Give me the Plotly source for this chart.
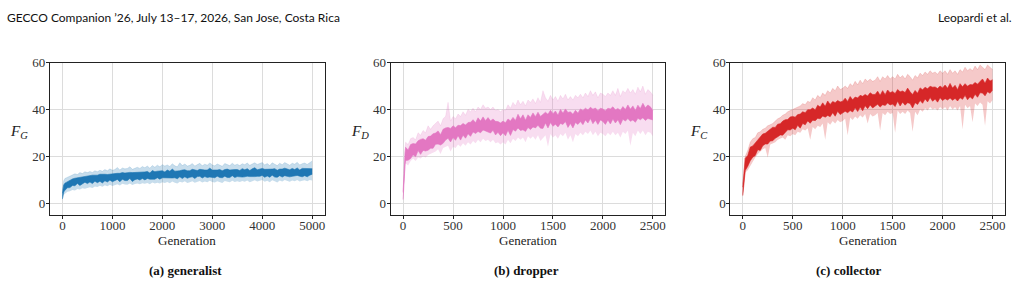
import plotly.graph_objects as go

# ---------------- data ----------------
gen_a = [0, 10, 25] + list(range(50, 5001, 50))
mean_a = [3.0, 5.0, 6.2,
          7.0, 7.8, 8.3, 8.9, 9.0, 9.6, 9.3, 9.9, 10.2, 10.0,
          10.4, 10.1, 10.6, 10.3, 10.8, 10.5, 10.9, 10.6, 11.1, 10.8,
          11.0, 11.4, 10.9, 11.6, 11.2, 11.3, 11.8, 11.1, 11.5, 11.7,
          11.4, 11.9, 11.6, 12.0, 11.5, 12.1, 11.8, 12.2, 11.9, 12.3,
          12.0, 12.4, 12.1, 12.6, 12.2, 12.0, 12.5, 12.3, 12.7, 12.2,
          12.4, 12.8, 12.3, 12.6, 12.9, 12.4, 12.7, 12.5, 13.0, 12.6,
          12.4, 12.8, 12.6, 12.3, 12.9, 12.7, 12.5, 13.0, 12.6, 12.8,
          12.5, 12.9, 12.7, 13.1, 12.6, 12.9, 13.2, 12.8, 13.0, 13.3,
          12.7, 13.0, 12.6, 13.2, 12.9, 12.5, 13.1, 12.8, 13.3, 12.9,
          12.7, 13.1, 12.9, 13.4, 12.8, 13.0, 13.2, 12.9, 13.3, 13.5]
spread_a = [1.2, 1.4, 1.5,
            1.5, 1.3, 1.7, 1.4, 1.6, 1.2, 1.8, 1.5, 1.3, 1.7,
            1.4, 1.8, 1.3, 1.6, 1.5, 1.9, 1.4, 1.6, 1.3, 1.7,
            1.5, 1.3, 1.8, 1.4, 1.6, 1.7, 1.3, 1.9, 1.5, 1.4,
            1.6, 1.4, 1.7, 1.5, 1.3, 1.8, 1.6, 1.4, 1.7, 1.5,
            1.3, 1.7, 1.5, 1.9, 1.4, 1.6, 1.3, 1.8, 1.5, 1.6,
            1.4, 1.6, 1.8, 1.3, 1.5, 1.7, 1.4, 1.6, 1.9, 1.5,
            1.6, 1.3, 1.7, 1.5, 1.4, 1.8, 1.6, 1.3, 1.7, 1.5,
            1.4, 1.8, 1.5, 1.6, 1.3, 1.7, 1.9, 1.4, 1.6, 1.5,
            1.7, 1.4, 1.6, 1.3, 1.8, 1.5, 1.4, 1.7, 1.6, 1.5,
            1.5, 1.7, 1.4, 1.6, 1.3, 1.8, 1.5, 1.7, 1.4, 1.2]
band_lo_a = [1.0, 2.5, 3.5,
             4.0, 4.8, 5.0, 5.6, 5.4, 6.0, 5.8, 6.3, 6.1, 6.6,
             6.8, 6.4, 7.1, 6.9, 7.4, 7.0, 7.6, 7.2, 7.8, 7.3,
             7.7, 8.0, 7.5, 8.2, 7.9, 7.8, 8.4, 7.7, 8.1, 8.3,
             8.0, 8.5, 8.2, 8.6, 8.0, 8.8, 8.3, 8.7, 8.4, 8.9,
             8.6, 9.0, 8.5, 9.2, 8.7, 8.4, 9.1, 8.8, 9.3, 8.6,
             8.9, 9.3, 8.7, 9.0, 9.4, 8.8, 9.2, 8.9, 9.5, 9.0,
             8.8, 9.3, 9.1, 8.6, 9.4, 9.2, 8.9, 9.5, 9.0, 9.3,
             9.0, 9.4, 9.1, 9.6, 8.9, 9.3, 9.7, 9.2, 9.5, 9.8,
             9.1, 9.5, 8.9, 9.7, 9.3, 8.8, 9.6, 9.2, 9.8, 9.3,
             9.1, 9.6, 9.3, 9.9, 9.2, 9.5, 9.7, 9.3, 9.8, 9.6]
band_hi_a = [5.5, 8.0, 9.5,
             10.5, 11.0, 11.8, 12.0, 12.5, 12.2, 13.0, 12.6, 13.4, 13.0,
             13.5, 13.1, 13.8, 13.4, 14.0, 13.6, 14.3, 13.8, 14.6, 14.0,
             14.3, 15.2, 14.1, 15.0, 14.6, 14.8, 15.5, 14.4, 15.0, 15.3,
             14.8, 15.6, 15.1, 15.8, 14.9, 16.0, 15.3, 16.2, 15.5, 16.4,
             15.8, 16.3, 15.6, 16.8, 15.9, 15.5, 17.2, 16.0, 16.7, 15.8,
             16.1, 16.9, 15.8, 16.4, 17.0, 15.9, 16.6, 16.2, 17.1, 16.3,
             15.9, 16.7, 16.3, 15.7, 16.9, 16.5, 16.0, 17.0, 16.2, 16.6,
             16.0, 16.8, 16.4, 17.1, 16.1, 16.7, 17.2, 16.5, 16.9, 17.3,
             16.3, 16.9, 16.0, 17.2, 16.6, 16.0, 17.0, 16.4, 17.3, 16.6,
             16.2, 17.0, 16.6, 17.4, 16.3, 16.8, 17.1, 16.5, 17.2, 18.0]

gen_b = [0, 5, 12, 20] + list(range(25, 2501, 25))
mean_b = [3.0, 9.0, 14.0, 19.0,
          21, 20.5, 22, 23, 22.5, 24.5, 24, 25, 24.5, 25.5,
          26, 26.5, 27.5, 28, 27, 28.5, 29.5, 30, 29, 30.5,
          29.5, 31, 30, 31.5, 30.5, 32, 31.5, 33, 32, 33.5,
          32.5, 34, 33, 33.5, 32.5, 33.5, 32, 32.5, 31.5, 32.5,
          31.5, 33.5, 32, 34, 33, 35, 33.5, 34.5, 33, 35,
          34, 35.5, 34.5, 36, 34.5, 35, 36.5, 35, 37, 35.5,
          36.5, 35, 37, 36, 37.5, 35.5, 36.5, 35, 37, 36,
          37.5, 36.5, 38, 37, 38.5, 37, 38, 36.5, 38, 37.5,
          36.5, 38, 37, 38.5, 37, 38, 36.5, 38.5, 37.5, 39,
          37.5, 38.5, 37, 39, 38, 39.5, 38, 39, 38.5, 37.5]
spread_b = [1.5, 2.0, 2.2, 2.5,
            2.8, 2.2, 3.0, 2.4, 2.7, 2.1, 3.2, 2.5, 2.3, 2.9,
            2.6, 3.1, 2.4, 2.8, 2.2, 3.0, 2.6, 2.3, 2.9, 2.5,
            2.7, 2.2, 3.1, 2.5, 2.8, 2.4, 3.0, 2.6, 2.3, 2.9,
            2.5, 2.8, 2.2, 3.0, 2.6, 2.4, 2.9, 2.3, 2.7, 2.5,
            2.8, 2.4, 3.1, 2.6, 2.3, 2.9, 2.5, 3.2, 2.4, 2.7,
            2.6, 3.0, 2.4, 2.8, 2.5, 3.1, 2.3, 2.9, 2.6, 2.7,
            2.8, 2.5, 3.0, 2.4, 2.7, 3.2, 2.5, 2.9, 2.6, 2.4,
            2.7, 3.0, 2.5, 2.8, 2.4, 3.1, 2.6, 2.9, 2.5, 2.7,
            2.9, 2.5, 3.2, 2.6, 2.8, 2.4, 3.0, 2.7, 2.5, 2.9,
            2.6, 3.0, 2.5, 2.8, 2.4, 3.1, 2.7, 2.9, 2.6, 2.0]
band_lo_b = [2, 6, 10, 14,
             17, 16, 18, 19, 18, 19.5, 19, 20, 19.5, 20.5,
             21, 21.5, 22, 23, 21, 23.5, 24, 24.5, 22, 24,
             23.5, 25, 24, 25.5, 24.5, 26, 25, 26.5, 25.5, 27,
             26, 27.5, 26.5, 27, 26, 27, 25.5, 26, 25, 26,
             25, 27, 25.5, 27.5, 26.5, 28, 27, 28, 26, 28.5,
             27.5, 28.5, 27, 29, 26.5, 28, 29, 24, 29.5, 28,
             29, 27.5, 29.5, 28.5, 30, 27, 29, 26, 29.5, 28.5,
             30, 29, 30.5, 29.5, 31, 29, 30.5, 28.5, 30, 29.5,
             28.5, 30, 29, 30.5, 29, 30, 28, 30.5, 29.5, 31,
             24.5, 30, 28.5, 31, 29.5, 31, 29, 30.5, 30, 28.5]
band_hi_b = [5, 13, 19, 24,
             26, 25, 27.5, 28, 27, 30, 29, 31, 30, 33,
             31.5, 33, 34, 35, 33, 36, 37, 43, 35, 37,
             36, 38, 37, 39, 37.5, 40, 39, 40.5, 39, 41,
             40, 42, 40.5, 41, 40, 41, 39.5, 40, 39, 40,
             39.5, 42, 40.5, 43, 41.5, 44, 42, 43.5, 41.5, 44,
             43, 44.5, 42.5, 45, 43, 48, 45, 43.5, 46, 44,
             45.5, 43.5, 46, 44.5, 46.5, 44, 45.5, 44, 46, 45,
             46.5, 45, 47, 45.5, 48, 46, 47.5, 45, 47, 46.5,
             45.5, 47, 46, 48, 46, 49, 45.5, 48, 47, 49,
             47, 48.5, 46.5, 49.5, 47.5, 50, 46.5, 48.5, 47.5, 46]

gen_c = [0, 5, 12, 20] + list(range(25, 2501, 25))
mean_c = [5.0, 8.0, 12.0, 15.0,
          16.5, 18, 21, 22, 23, 25, 25.5, 27, 27.5, 28,
          29, 29.5, 30, 31, 31.5, 32, 33, 33.5, 34, 34.5,
          34, 35.5, 35, 36.5, 36, 37.5, 37, 38, 37.5, 39,
          38.5, 40, 39, 40.5, 39.5, 41, 40, 41.5, 40.5, 41,
          42, 41, 42.5, 41.5, 43, 42, 43.5, 42.5, 44, 43,
          44.5, 43.5, 44, 45, 43.5, 45, 44, 45.5, 44.5, 45,
          44, 46, 44.5, 45.5, 44.5, 46, 45, 43.5, 45.5, 44.5,
          46.5, 45.5, 47, 46, 47.5, 46.5, 47, 46, 47.5, 46.5,
          47.5, 46.5, 48, 46.5, 47.5, 46, 48, 47, 48.5, 47,
          48, 47.5, 49, 48, 49.5, 50, 48.5, 50.5, 49.5, 50.5]
spread_c = [1.8, 2.0, 2.3, 2.5,
            2.6, 2.3, 2.9, 2.4, 2.7, 2.2, 3.0, 2.5, 2.3, 2.8,
            2.5, 2.9, 2.3, 2.7, 2.4, 3.0, 2.6, 2.2, 2.8, 2.5,
            2.7, 2.3, 3.0, 2.5, 2.6, 2.4, 2.9, 2.6, 2.3, 2.8,
            2.5, 2.8, 2.3, 3.1, 2.6, 2.4, 2.9, 2.3, 2.7, 2.5,
            2.8, 2.4, 3.0, 2.6, 2.3, 2.9, 2.5, 3.1, 2.4, 2.7,
            2.6, 2.9, 2.4, 2.8, 2.5, 3.0, 2.3, 2.8, 2.6, 2.7,
            2.8, 2.5, 3.0, 2.4, 2.7, 3.1, 2.5, 2.9, 2.6, 2.4,
            2.7, 2.9, 2.5, 2.8, 2.4, 3.0, 2.6, 2.9, 2.5, 2.7,
            2.9, 2.5, 3.1, 2.6, 2.8, 2.4, 3.0, 2.7, 2.5, 2.9,
            2.6, 3.0, 2.5, 2.8, 2.4, 3.0, 2.7, 2.9, 2.6, 2.2]
band_lo_c = [2.5, 5, 8, 11,
             13, 14, 16, 18, 19.5, 21, 22, 23, 23.5, 19.5,
             25, 25.5, 26, 27, 27.5, 28, 27, 29, 28.5, 29.5,
             29, 30.5, 30, 31.5, 31, 32, 27, 32.5, 31.5, 33,
             32.5, 34, 27, 34.5, 33.5, 35, 34, 35.5, 34.5, 35,
             36, 29, 36.5, 35.5, 37, 36, 37.5, 36.5, 38, 34,
             38, 37, 37.5, 38.5, 31, 38.5, 37.5, 39, 38, 38.5,
             30, 39.5, 38, 39, 38, 39.5, 38.5, 30.5, 39, 37.5,
             40, 39, 40.5, 39.5, 41, 40, 40.5, 39.5, 41, 40,
             41, 39.5, 41.5, 40, 41, 39.5, 41.5, 31.5, 42, 40.5,
             41.5, 34.5, 42.5, 41.5, 43, 42, 33, 43.5, 42.5, 44]
band_hi_c = [8, 12, 16, 19,
             20, 22.5, 26, 27.5, 28, 30, 30.5, 31.5, 32, 33,
             33.5, 34, 35, 36, 36.5, 37.5, 38, 39, 39.5, 40,
             40.5, 41, 41.5, 42.5, 42, 43.5, 43, 45, 44, 46,
             45, 47, 46, 48, 47, 49, 48, 50, 48.5, 49,
             50, 49, 51, 50, 52, 50.5, 52.5, 51, 53, 52,
             53, 52, 52.5, 54, 52, 54, 53, 54.5, 53, 54,
             53, 55, 53.5, 54.5, 53, 55, 54, 52.5, 54.5, 53.5,
             55.5, 54.5, 56, 55, 56.5, 55.5, 56, 55, 56.5, 55.5,
             56.5, 55, 57, 55.5, 56.5, 55, 57, 56, 58, 56.5,
             57.5, 56.5, 58.5, 57, 59, 58, 57, 59, 58, 57]

y_ticks = [0, 20, 40, 60]
x_ticks_a = [0, 1000, 2000, 3000, 4000, 5000]
x_ticks_bc = [0, 500, 1000, 1500, 2000, 2500]
y_labels = ["<i>F</i><sub><i>G</i></sub>", "<i>F</i><sub><i>D</i></sub>", "<i>F</i><sub><i>C</i></sub>"]
captions = ["(a) generalist", "(b) dropper", "(c) collector"]
header_left = "GECCO Companion ’26, July 13–17, 2026, San Jose, Costa Rica"
header_right = "Leopardi et al."

# ---------------- figure ----------------
panels = [
    (gen_a, mean_a, spread_a, band_lo_a, band_hi_a, "#1f77b4", "rgba(31,119,180,0.25)"),
    (gen_b, mean_b, spread_b, band_lo_b, band_hi_b, "#e377c2", "rgba(227,119,194,0.25)"),
    (gen_c, mean_c, spread_c, band_lo_c, band_hi_c, "#d62728", "rgba(214,39,40,0.25)"),
]
W, H = 1021, 284
x_dom_px = [(50, 325), (391, 666), (731, 1006)]
y_top_px, y_bot_px = 57, 213
x_ranges = [[-250, 5250], [-125, 2625], [-125, 2625]]
serif = "Liberation Serif, Times New Roman, serif"

fig = go.Figure()
layout_axes = {}
for i, (g, m, s, lo, hi, dark, light) in enumerate(panels):
    assert len(g) == len(m) == len(s) == len(lo) == len(hi)
    xa = "x" if i == 0 else f"x{i+1}"
    ya = "y" if i == 0 else f"y{i+1}"
    fig.add_trace(go.Scatter(x=g, y=lo, mode="lines", line=dict(width=0, color=light),
                             xaxis=xa, yaxis=ya, showlegend=False, hoverinfo="skip"))
    fig.add_trace(go.Scatter(x=g, y=hi, mode="lines", line=dict(width=0.6, color=light),
                             fill="tonexty", fillcolor=light,
                             xaxis=xa, yaxis=ya, showlegend=False, hoverinfo="skip"))
    dlo = [a - b for a, b in zip(m, s)]
    dhi = [a + b for a, b in zip(m, s)]
    fig.add_trace(go.Scatter(x=g, y=dlo, mode="lines", line=dict(width=0.6, color=dark),
                             xaxis=xa, yaxis=ya, showlegend=False, hoverinfo="skip"))
    fig.add_trace(go.Scatter(x=g, y=dhi, mode="lines", line=dict(width=0.6, color=dark),
                             fill="tonexty", fillcolor=dark,
                             xaxis=xa, yaxis=ya, showlegend=False, hoverinfo="skip"))

    x0, x1 = x_dom_px[i]
    suffix = "" if i == 0 else str(i + 1)
    common = dict(showline=True, linecolor="#222", linewidth=1, mirror=True,
                  ticks="outside", ticklen=3, tickwidth=1, tickcolor="#222",
                  showgrid=True, gridcolor="#dcdcdc", gridwidth=1, zeroline=False,
                  tickfont=dict(family=serif, size=13, color="#333"))
    layout_axes["xaxis" + suffix] = dict(domain=[x0 / W, x1 / W], anchor=ya, range=x_ranges[i],
                                         tickmode="array", ticklabelstandoff=-4,
                                         tickvals=x_ticks_a if i == 0 else x_ticks_bc, **common)
    layout_axes["yaxis" + suffix] = dict(domain=[1 - y_bot_px / H, 1 - y_top_px / H], anchor=xa,
                                         range=[-5, 60], tickmode="array", tickvals=y_ticks,
                                         ticklabelstandoff=-2, **common)

    fig.add_annotation(text=y_labels[i], x=(x0 - 31) / W, y=1 - 128 / H, xref="paper", yref="paper",
                       showarrow=False, xanchor="center", yanchor="middle",
                       font=dict(family=serif, size=15, color="#222"))
    fig.add_annotation(text="Generation", x=(x0 + x1) / 2 / W, y=1 - 239 / H, xref="paper", yref="paper",
                       showarrow=False, xanchor="center", yanchor="middle",
                       font=dict(family=serif, size=13, color="#222"))
    fig.add_annotation(text="<b>" + captions[i] + "</b>", x=[186, 527, 850][i] / W, y=1 - 270 / H,
                       xref="paper", yref="paper", showarrow=False, xanchor="center", yanchor="middle",
                       font=dict(family=serif, size=13, color="#111"))

fig.add_annotation(text=header_left, x=5 / W, y=1 - 11 / H, xref="paper", yref="paper",
                   showarrow=False, xanchor="left", yanchor="middle",
                   font=dict(family="Lato", size=12, color="#111"))
fig.add_annotation(text=header_right, x=1015 / W, y=1 - 11 / H, xref="paper", yref="paper",
                   showarrow=False, xanchor="right", yanchor="middle",
                   font=dict(family="Lato", size=12, color="#111"))

fig.update_layout(width=W, height=H, margin=dict(l=0, r=0, t=0, b=0),
                  font=dict(family=serif, size=13, color="#333"),
                  paper_bgcolor="white", plot_bgcolor="white", **layout_axes)
fig.write_html("out.html")
